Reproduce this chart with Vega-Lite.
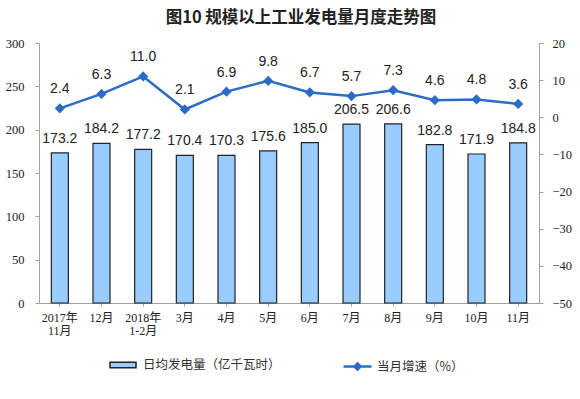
{
  "$schema": "https://vega.github.io/schema/vega-lite/v6.json",
  "width": 500,
  "height": 260,
  "autosize": "none",
  "padding": {"left": 39, "top": 43, "right": 41, "bottom": 96},
  "background": "white",
  "title": {
    "text": "图10 规模以上工业发电量月度走势图",
    "font": "Noto Sans CJK SC",
    "fontSize": 16.5,
    "fontWeight": "bold",
    "color": "#222",
    "anchor": "middle",
    "offset": 11,
    "dx": 12
  },
  "config": {
    "view": {"stroke": null},
    "axis": {
      "domainColor": "#a0a0a0",
      "tickColor": "#a0a0a0",
      "grid": false,
      "labelColor": "#222",
      "labelFont": "Liberation Serif, Noto Sans CJK SC",
      "labelFontSize": 12.5,
      "labelOverlap": false,
      "title": null
    }
  },
  "data": {
    "values": [
      {"month": "2017年|11月", "gen": 173.2, "growth": 2.4},
      {"month": "12月", "gen": 184.2, "growth": 6.3},
      {"month": "2018年|1-2月", "gen": 177.2, "growth": 11.0},
      {"month": "3月", "gen": 170.4, "growth": 2.1},
      {"month": "4月", "gen": 170.3, "growth": 6.9},
      {"month": "5月", "gen": 175.6, "growth": 9.8},
      {"month": "6月", "gen": 185.0, "growth": 6.7},
      {"month": "7月", "gen": 206.5, "growth": 5.7},
      {"month": "8月", "gen": 206.6, "growth": 7.3},
      {"month": "9月", "gen": 182.8, "growth": 4.6},
      {"month": "10月", "gen": 171.9, "growth": 4.8},
      {"month": "11月", "gen": 184.8, "growth": 3.6}
    ]
  },
  "encoding": {
    "x": {
      "field": "month",
      "type": "nominal",
      "sort": null,
      "scale": {"paddingInner": 0, "paddingOuter": 0},
      "axis": {
        "labelAngle": 0,
        "labelExpr": "split(datum.label, '|')",
        "labelLineHeight": 13,
        "labelPadding": 6,
        "tickSize": 3,
        "labelFontSize": 12
      }
    }
  },
  "layer": [
    {
      "encoding": {
        "y": {
          "field": "gen",
          "type": "quantitative",
          "scale": {"domain": [0, 300]},
          "axis": {"values": [0, 50, 100, 150, 200, 250, 300], "tickSize": 4, "labelPadding": 11, "labelOverlap": false}
        }
      },
      "layer": [
        {
          "mark": {"type": "bar", "size": 17, "stroke": "#222", "strokeWidth": 1.2},
          "encoding": {
            "fill": {
              "datum": "日均发电量（亿千瓦时）",
              "scale": {"range": ["#99CCFF"]},
              "legend": {
                "orient": "none",
                "legendX": 70,
                "legendY": 308,
                "title": null,
                "symbolType": "M-1,-0.22H1V0.22H-1Z",
                "symbolSize": 676,
                "symbolStrokeColor": "#222",
                "symbolStrokeWidth": 1.5,
                "symbolOpacity": 1,
                "labelFont": "Noto Sans CJK SC",
                "labelFontSize": 12.5,
                "labelColor": "#333",
                "labelOffset": 6
              }
            }
          }
        },
        {
          "mark": {"type": "text", "baseline": "bottom", "dy": -7, "fontSize": 14, "font": "Liberation Sans", "color": "#222"},
          "encoding": {
            "text": {"field": "gen", "type": "quantitative", "format": ".1f"}
          }
        }
      ]
    },
    {
      "encoding": {
        "y": {
          "field": "growth",
          "type": "quantitative",
          "scale": {"domain": [-50, 20]},
          "axis": {"orient": "right", "values": [-50, -40, -30, -20, -10, 0, 10, 20], "tickSize": 4, "labelPadding": 9, "labelOverlap": false}
        }
      },
      "layer": [
        {
          "mark": {
            "type": "line",
            "strokeWidth": 2.5,
            "point": {"shape": "diamond", "filled": true, "fill": "#2B6CC4", "size": 55}
          },
          "encoding": {
            "stroke": {
              "datum": "当月增速（%）",
              "scale": {"range": ["#2B6CC4"]},
              "legend": {
                "orient": "none",
                "legendX": 303,
                "legendY": 308,
                "title": null,
                "symbolType": "M-1,0H1M0,-0.22L0.22,0L0,0.22L-0.22,0Z",
                "symbolSize": 784,
                "symbolFillColor": "#2B6CC4",
                "symbolStrokeWidth": 2.5,
                "labelFont": "Noto Sans CJK SC",
                "labelFontSize": 12.5,
                "labelColor": "#333",
                "labelOffset": 4
              }
            }
          }
        },
        {
          "mark": {"type": "text", "baseline": "bottom", "dy": -12, "fontSize": 14, "font": "Liberation Sans", "color": "#222"},
          "encoding": {
            "text": {"field": "growth", "type": "quantitative", "format": ".1f"}
          }
        }
      ]
    }
  ],
  "resolve": {"scale": {"y": "independent"}}
}
